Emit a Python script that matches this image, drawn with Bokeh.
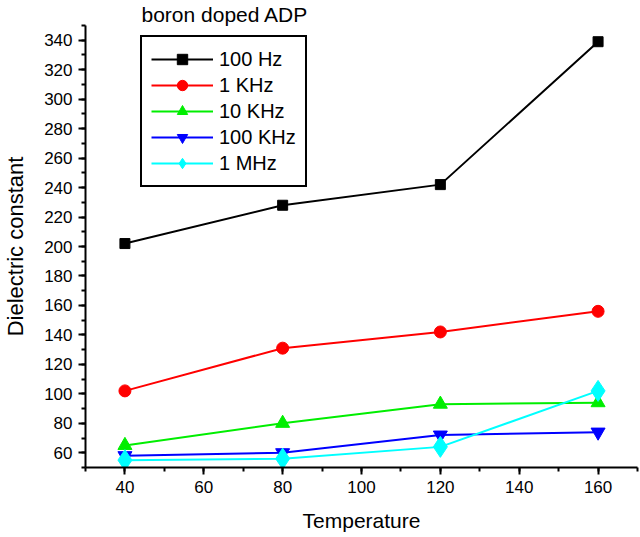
from bokeh.plotting import figure
from bokeh.models import Range1d, Legend, LegendItem, SingleIntervalTicker
from bokeh.embed import file_html
from bokeh.resources import INLINE

temperature = [40, 80, 120, 160]
hz100 = [202, 228, 242, 339]
khz1 = [102, 131, 142, 156]
khz10 = [65, 80, 93, 94]
khz100 = [58, 60, 72, 74]
mhz1 = [55, 56, 64, 102]

series_names = ["100 Hz", "1 KHz", "10 KHz", "100 KHz", "1 MHz"]
FONT = "Liberation Sans"

p = figure(width=640, height=537, output_backend="svg", toolbar_location=None,
           x_range=Range1d(30, 170), y_range=Range1d(50, 350),
           min_border_left=82, min_border_right=3, min_border_top=25, min_border_bottom=70)
p.xgrid.visible = False
p.ygrid.visible = False
p.outline_line_color = None
p.background_fill_color = "white"
p.border_fill_color = "white"

p.title.text = "boron doped ADP"
p.title.align = "left"
p.title.offset = 56
p.title.standoff = 0
p.title.text_font = FONT
p.title.text_font_size = "21px"
p.title.text_font_style = "normal"
p.title.text_color = "black"

for ax in (p.xaxis[0], p.yaxis[0]):
    ax.axis_line_width = 2
    ax.axis_line_color = "black"
    ax.major_tick_line_width = 2
    ax.minor_tick_line_width = 2
    ax.major_tick_out = 7
    ax.major_tick_in = 0
    ax.minor_tick_out = 4
    ax.minor_tick_in = 0
    ax.major_label_text_font = FONT
    ax.major_label_text_font_size = "17px"
    ax.major_label_text_color = "black"
    ax.major_label_standoff = 6
    ax.axis_label_text_font = FONT
    ax.axis_label_text_font_style = "normal"
    ax.axis_label_text_color = "black"

p.xaxis.ticker = SingleIntervalTicker(interval=20, num_minor_ticks=2)
p.yaxis.ticker = SingleIntervalTicker(interval=20, num_minor_ticks=2)
p.xaxis.axis_label = "Temperature"
p.yaxis.axis_label = "Dielectric constant"
p.xaxis.axis_label_text_font_size = "21px"
p.yaxis.axis_label_text_font_size = "22px"
p.xaxis.axis_label_standoff = 13
p.yaxis.axis_label_standoff = 13

styles = [
    (hz100, "black", "square", 10),
    (khz1, "#ff0000", "circle", 12),
    (khz10, "#00ee00", "triangle", 14),
    (khz100, "#0000ff", "inverted_triangle", 14),
    (mhz1, "#00ffff", "diamond", 21),
]

items = []
for (vals, color, marker, size), name in zip(styles, series_names):
    ln = p.line(temperature, vals, line_color=color, line_width=2)
    sc = p.scatter(temperature, vals, marker=marker, size=size,
                   fill_color=color, line_color=color)
    items.append(LegendItem(label=name, renderers=[ln, sc]))

legend = Legend(items=items, location=(55, 280))
legend.label_text_font = FONT
legend.label_text_font_size = "20px"
legend.label_text_color = "black"
legend.border_line_color = "black"
legend.border_line_alpha = 1.0
legend.border_line_width = 2
legend.background_fill_alpha = 1.0
legend.glyph_width = 62
legend.glyph_height = 26
legend.label_height = 26
legend.spacing = 0
legend.padding = 9
legend.margin = 0
legend.label_standoff = 6
p.add_layout(legend, "center")

open("out.html", "w").write(file_html(p, INLINE))
